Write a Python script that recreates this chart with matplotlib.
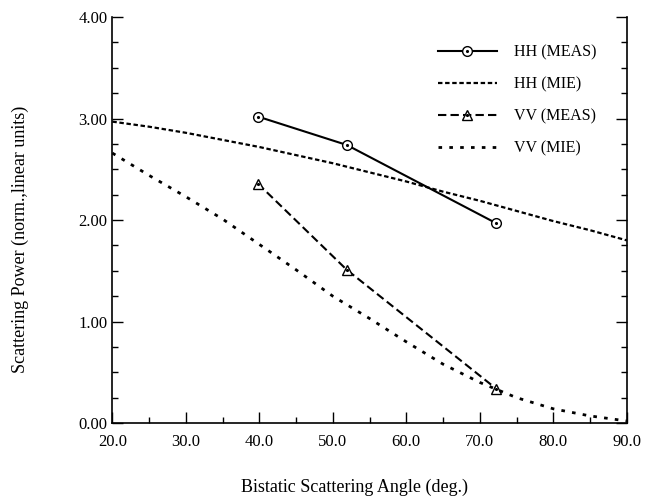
import numpy as np
import matplotlib.pyplot as plt
from matplotlib.legend_handler import HandlerTuple
from matplotlib.ticker import MultipleLocator

plt.rcParams['font.family'] = ['Liberation Serif', 'DejaVu Serif']

# measured points
meas_angle = [39.8, 51.9, 72.2]
hh_meas = [3.02, 2.74, 1.97]
vv_meas = [2.36, 1.51, 0.34]

# Mie curves
mie_angle = [20, 25, 30, 35, 40, 45, 50, 55, 60, 65, 70, 75, 80, 85, 90]
hh_mie = [2.97, 2.92, 2.86, 2.79, 2.72, 2.64, 2.56, 2.47, 2.38, 2.28, 2.19, 2.09, 1.99, 1.90, 1.80]
vv_mie = [2.66, 2.44, 2.23, 2.01, 1.76, 1.51, 1.25, 1.03, 0.80, 0.58, 0.40, 0.25, 0.14, 0.07, 0.02]

fig = plt.figure(figsize=(6.57, 5.03), dpi=100)
ax = fig.add_axes([0.171, 0.159, 0.783, 0.807])

l1, = ax.plot(meas_angle, hh_meas, '-', color='k', lw=1.5, marker='o', ms=7,
              mfc='white', mec='k', mew=1.0)
d1, = ax.plot(meas_angle, hh_meas, ' ', marker='.', ms=2.5, color='k')
l2, = ax.plot(mie_angle, hh_mie, color='k', lw=1.6, dashes=(2, 1.2))
l3, = ax.plot(meas_angle, vv_meas, color='k', lw=1.5, dashes=(4, 2), marker='^', ms=7,
              mfc='white', mec='k', mew=1.0)
d3, = ax.plot(meas_angle, vv_meas, ' ', marker='.', ms=2.5, color='k')
l4, = ax.plot(mie_angle, vv_mie, color='k', lw=2, dashes=(1.3, 2.6))

ax.set_xlim(20, 90)
ax.set_ylim(0, 4)
ax.xaxis.set_minor_locator(MultipleLocator(5))
ax.yaxis.set_minor_locator(MultipleLocator(0.25))
ax.set_xticks([20, 30, 40, 50, 60, 70, 80, 90])
ax.set_xticklabels(['%.1f' % v for v in [20, 30, 40, 50, 60, 70, 80, 90]])
ax.set_yticks([0, 1, 2, 3, 4])
ax.set_yticklabels(['%.2f' % v for v in [0, 1, 2, 3, 4]])
ax.tick_params(which='both', direction='in', right=True, top=False, labelsize=12)
ax.tick_params(which='major', length=8, width=1)
ax.tick_params(axis='x', pad=8)
ax.tick_params(which='minor', length=4, width=1)
ax.spines['top'].set_visible(False)
for s in ['left', 'right', 'bottom']:
    ax.spines[s].set_linewidth(1.2)

ax.set_xlabel('Bistatic Scattering Angle (deg.)', fontsize=13)
ax.set_ylabel('Scattering Power (norm.,linear units)', fontsize=13)
ax.xaxis.set_label_coords(0.471, -0.136)
ax.yaxis.set_label_coords(-0.162, 0.453)

ax.legend([(l1, d1), l2, (l3, d3), l4],
          ['HH (MEAS)', 'HH (MIE)', 'VV (MEAS)', 'VV (MIE)'],
          handler_map={tuple: HandlerTuple(ndivide=1)},
          loc='upper right', bbox_to_anchor=(0.97, 0.968), frameon=False,
          fontsize=11.5, handlelength=3.7, labelspacing=1.0, handletextpad=1.1)

plt.savefig('out.png', dpi=100)
